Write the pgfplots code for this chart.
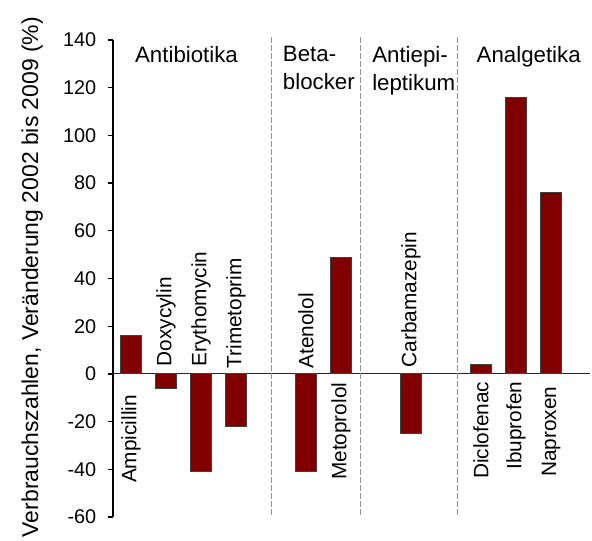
\documentclass[border=0pt]{standalone}
\usepackage{fontspec}
\setmainfont{Liberation Sans}
\usepackage{pgfplots}
\pgfplotsset{compat=1.18}
\definecolor{barred}{RGB}{128,0,0}
\begin{document}
\begin{tikzpicture}
\begin{axis}[
 name=ax,
 width=357.75pt, height=357.75pt, scale only axis,
 xmin=-0.514, xmax=13.114, ymin=-60, ymax=140,
 axis x line=none,
 axis y line*=left,
 y axis line style={line width=2.2pt},
 ytick={-60,-40,...,140},
 tick align=outside,
 major tick length=4pt,
 ytick style={line width=1pt, black},
 yticklabel style={font=\fontsize{14.9}{16}\selectfont, xshift=-5pt},
 /pgf/number format/assume math mode=true,
 ylabel={Verbrauchszahlen, Veränderung 2002 bis 2009 (\%)},
 ylabel style={font=\fontsize{17.2}{20}\selectfont, at={(axis description cs:-0.157,0.503)}, anchor=base},
 clip=false,
]
\addplot[black!85, line width=0.9pt, mark=none, forget plot] coordinates {(-0.514,0) (13.114,0)};
\addplot[gray!85, line width=1pt, dash pattern=on 4pt off 2pt, mark=none, forget plot] coordinates {(4.02,-59) (4.02,141.5)};
\addplot[gray!85, line width=1pt, dash pattern=on 4pt off 2pt, mark=none, forget plot] coordinates {(6.56,-59) (6.56,141.5)};
\addplot[gray!85, line width=1pt, dash pattern=on 4pt off 2pt, mark=none, forget plot] coordinates {(9.33,-59) (9.33,141.5)};
\addplot[ybar, bar width=0.58, fill=barred, draw=black!75, line width=0.6pt] coordinates {(0,16) (1,-6) (2,-41) (3,-22) (5,-41) (6,49) (8,-25) (10,4) (11,116) (12,76)};

\begin{scope}[every node/.style={inner sep=0pt, font=\fontsize{16.7}{20.8}\selectfont}]
\node[anchor=north] at (axis cs:1.586,137.4) {Antibiotika};
\node[anchor=north west, align=left] at (axis cs:4.334,137.4) {Beta-\\blocker};
\node[anchor=north west, align=left] at (axis cs:6.886,137.4) {Antiepi-\\leptikum};
\node[anchor=north] at (axis cs:11.363,137.4) {Analgetika};
\end{scope}

\begin{scope}[every node/.style={inner sep=0pt, rotate=90, font=\fontsize{15.6}{18}\selectfont}]
\node[anchor=east] at (axis cs:0,-8.8) {Ampicillin};
\node[anchor=east] at (axis cs:6,-3.6) {Metoprolol};
\node[anchor=east] at (axis cs:10,-3.2) {Diclofenac};
\node[anchor=east] at (axis cs:11,-3.2) {Ibuprofen};
\node[anchor=east] at (axis cs:12,-5.2) {Naproxen};
\node[anchor=west] at (axis cs:1,3.1) {Doxycylin};
\node[anchor=west] at (axis cs:2,3.1) {Erythomycin};
\node[anchor=west] at (axis cs:3,2.2) {Trimetoprim};
\node[anchor=west] at (axis cs:5,2.2) {Atenolol};
\node[anchor=west] at (axis cs:8,2.6) {Carbamazepin};
\end{scope}
\end{axis}
\pgfresetboundingbox
\path[use as bounding box] ([shift={(-84.75pt,-18pt)}]ax.south west) rectangle ([shift={(1.5pt,30pt)}]ax.north east);
\end{tikzpicture}
\end{document}
